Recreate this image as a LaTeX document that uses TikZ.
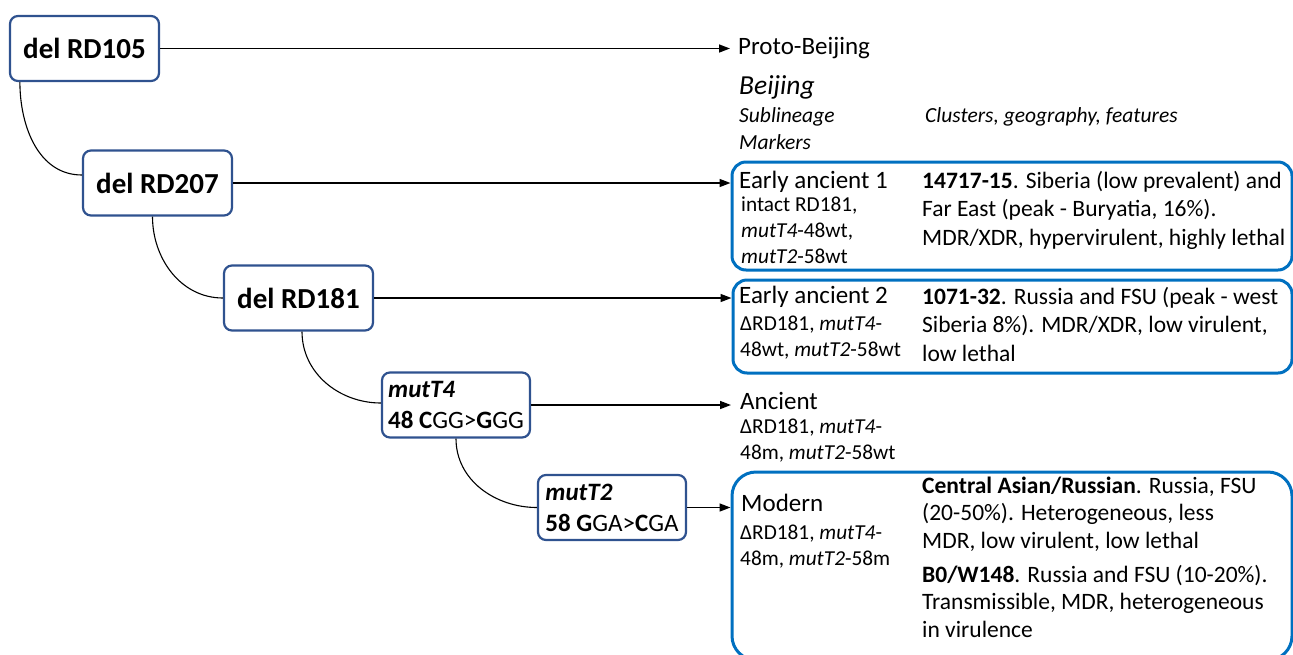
\documentclass[tikz,border=0pt]{standalone}
\usepackage{fontspec}
\setmainfont{Carlito}
\usetikzlibrary{arrows.meta}

\definecolor{delline}{RGB}{47,82,143}
\definecolor{grpline}{RGB}{0,112,192}

\begin{document}
\begin{tikzpicture}[x=1pt,y=-1pt]
    \tikzstyle{del}=[draw=delline, line width=2.2pt, rounded corners=8pt, minimum width=149pt, minimum height=65pt, inner sep=0pt, font=\fontsize{29}{33}\selectfont\bfseries]
    \tikzstyle{mut}=[draw=delline, line width=2.2pt, rounded corners=8pt, minimum width=148pt, minimum height=65pt, inner sep=0pt, align=left, font=\fontsize{25}{31}\selectfont]
    \tikzstyle{grp}=[draw=grpline, line width=3pt, rounded corners=14pt, inner sep=0pt]
    \tikzstyle{ttl}=[anchor=base west, inner sep=0pt, font=\fontsize{25}{28.5}\selectfont]
    \tikzstyle{lbl}=[anchor=base west, inner sep=0pt, align=left, font=\fontsize{23.5}{28.5}\selectfont]
    \tikzstyle{mrk}=[anchor=base west, inner sep=0pt, align=left, font=\fontsize{21.3}{25.5}\selectfont]
    \tikzstyle{hdr}=[anchor=base west, inner sep=0pt, align=left, font=\fontsize{21.5}{27}\selectfont\itshape]
    \tikzstyle{arr}=[-{Triangle[length=11pt,width=8pt]}, line width=1.5pt]
    \tikzstyle{link}=[line width=1.1pt]

    \useasboundingbox (0,0) rectangle (1293,654);

    % deletion / mutation steps
    \node[del] (r105) at (84.5,48.5) {del RD105};
    \node[del] (r207) at (157.5,183) {del RD207};
    \node[del] (r181) at (298.5,298) {del RD181};
    \node[mut] (t4) at (456,405) {\textbf{\textit{mutT4}}\\\textbf{48 C}GG>\textbf{G}GG};
    \node[mut] (t2) at (612,507.5) {\textbf{\textit{mutT2}}\\\textbf{58 G}GA>\textbf{C}GA};

    % sublineage boxes
    \node[grp, minimum width=560pt, minimum height=108pt] (ea1) at (1012,216) {};
    \node[grp, minimum width=559pt, minimum height=93pt] (ea2) at (1012.5,326.5) {};
    \node[grp, rounded corners=24pt, minimum width=560pt, minimum height=188pt] (mod) at (1012,566) {};

    % headings (multi-line nodes sit on their last baseline)
    \node[ttl, inner xsep=8pt] (proto) at (730,54) {Proto-Beijing};
    \node[hdr, font=\fontsize{27.5}{27}\selectfont\itshape] (bj) at (739,94) {Beijing};
    \node[hdr] (subl) at (739,149) {Sublineage\\Markers};
    \node[hdr] (clus) at (925,122) {Clusters, geography, features};

    % early ancient 1
    \node[ttl] (ea1t) at (739,188) {Early ancient 1};
    \node[mrk, font=\fontsize{21.3}{26}\selectfont] (ea1m) at (741,263) {intact RD181,\\\textit{mutT4}-48wt,\\\textit{mutT2}-58wt};
    \node[lbl] (ea1d) at (922,245) {\textbf{14717-15}. Siberia (low prevalent) and\\Far East (peak - Buryatia, 16\%).\\MDR/XDR, hypervirulent, highly lethal};

    % early ancient 2
    \node[ttl] (ea2t) at (739,303) {Early ancient 2};
    \node[mrk] (ea2m) at (740,356) {ΔRD181, \textit{mutT4}-\\48wt, \textit{mutT2}-58wt};
    \node[lbl] (ea2d) at (922,361) {\textbf{1071-32}. Russia and FSU (peak - west\\Siberia 8\%). MDR/XDR, low virulent,\\low lethal};

    % ancient
    \node[ttl, inner xsep=9pt] (anc) at (731,409) {Ancient};
    \node[mrk] (ancm) at (740,459) {ΔRD181, \textit{mutT4}-\\48m, \textit{mutT2}-58wt};

    % modern
    \node[ttl] (modt) at (741,511) {Modern};
    \node[mrk] (modm) at (740,565) {ΔRD181, \textit{mutT4}-\\48m, \textit{mutT2}-58m};
    \node[lbl, font=\fontsize{23.5}{27.5}\selectfont] (modd1) at (922,548) {\textbf{Central Asian/Russian}. Russia, FSU\\(20-50\%). Heterogeneous, less\\MDR, low virulent, low lethal};
    \node[lbl, font=\fontsize{23.5}{27.5}\selectfont] (modd2) at (922,637) {\textbf{B0/W148}. Russia and FSU (10-20\%).\\Transmissible, MDR, heterogeneous\\in virulence};

    % branches
    \draw[link] ([xshift=11pt]r105.south west) to[out=-90,in=180] ([yshift=8pt]r207.west);
    \draw[link] ([xshift=-5pt]r207.south) to[out=-90,in=180] (r181.west);
    \draw[link] ([xshift=3.5pt]r181.south) to[out=-90,in=180] ([yshift=2pt]t4.west);
    \draw[link] (t4.south) to[out=-90,in=180] (t2.west);

    \draw[arr] (r105) -- (r105 -| proto.west);
    \draw[arr] (r207) -- (r207 -| ea1.west);
    \draw[arr] (r181) -- (r181 -| ea2.west);
    \draw[arr] (t4) -- (t4 -| anc.west);
    \draw[arr] (t2) -- (t2 -| mod.west);

\end{tikzpicture}
\end{document}
